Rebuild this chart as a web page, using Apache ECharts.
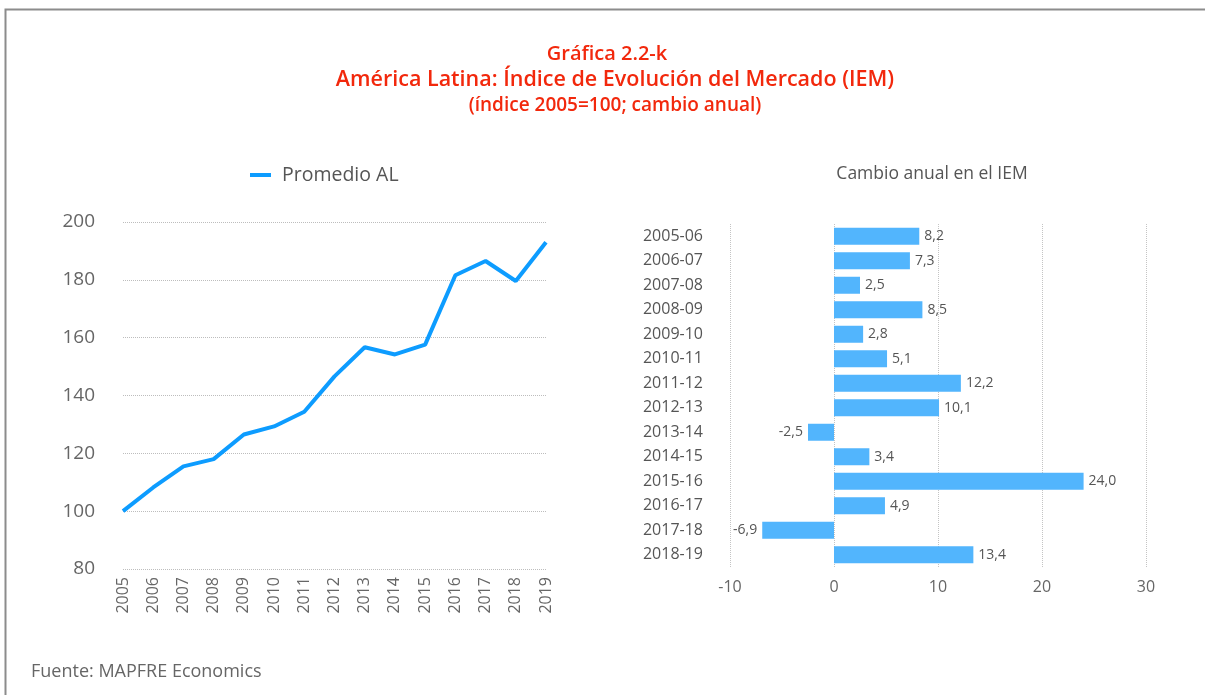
<!DOCTYPE html>
<html>
<head>
<meta charset="utf-8">
<title>IEM America Latina</title>
<script src="https://cdn.jsdelivr.net/npm/echarts@6/dist/echarts.min.js"></script>
<style>
    html, body { margin: 0; padding: 0; background: #fff; }
    #chart { width: 1205px; height: 695px; }
</style>
</head>
<body>
<div id="chart"></div>
<script>
// Serie del índice (2005 = 100)
const years = ['2005','2006','2007','2008','2009','2010','2011','2012','2013','2014','2015','2016','2017','2018','2019'];
const promedioAL = [100, 108.2, 115.5, 118.0, 126.5, 129.3, 134.4, 146.6, 156.7, 154.2, 157.6, 181.6, 186.5, 179.6, 193.0];
const yTicks = [80, 200, 20]; // min, max, interval

// Cambio anual en el IEM
const periods = ['2005-06','2006-07','2007-08','2008-09','2009-10','2010-11','2011-12','2012-13','2013-14','2014-15','2015-16','2016-17','2017-18','2018-19'];
const cambio = [8.2, 7.3, 2.5, 8.5, 2.8, 5.1, 12.2, 10.1, -2.5, 3.4, 24.0, 4.9, -6.9, 13.4];
const xTicks = [-10, 30, 10];

const FONT = '"Open Sans", Roboto, sans-serif';
const RED = '#f2280c';
const LINE_BLUE = '#0d9cff';
const BAR_BLUE = '#52b5fd';

let myChart = echarts.init(document.getElementById('chart'));

// barras: etiqueta a la derecha si es positivo, a la izquierda si es negativo
let barData = cambio.map(function (v) {
    return {
        value: v,
        label: { position: v < 0 ? 'left' : 'right' }
    };
});

let option = {
    backgroundColor: '#fff',
    textStyle: { fontFamily: FONT },
    animation: false,
    title: [
        {
            text: 'Gráfica 2.2-k',
            left: 602, top: 39, textAlign: 'center',
            textStyle: { color: RED, fontSize: 20, fontWeight: 600, fontFamily: FONT }
        },
        {
            text: 'América Latina: Índice de Evolución del Mercado (IEM)',
            left: 610, top: 64, textAlign: 'center',
            textStyle: { color: RED, fontSize: 21.5, fontWeight: 600, fontFamily: FONT }
        },
        {
            text: '(índice 2005=100; cambio anual)',
            left: 610, top: 91, textAlign: 'center',
            textStyle: { color: RED, fontSize: 19, fontWeight: 600, fontFamily: FONT }
        },
        {
            text: 'Cambio anual en el IEM',
            left: 927, top: 160, textAlign: 'center',
            textStyle: { color: '#555', fontSize: 17.5, fontWeight: 'normal', fontFamily: FONT }
        },
        {
            text: 'Fuente: MAPFRE Economics',
            left: 26, top: 658,
            textStyle: { color: '#666', fontSize: 18, fontWeight: 'normal', fontFamily: FONT }
        }
    ],
    legend: {
        data: ['Promedio AL'],
        left: 245, top: 160,
        icon: 'rect',
        itemWidth: 21,
        itemHeight: 4,
        textStyle: { color: '#555', fontSize: 19.5, fontFamily: FONT, padding: [0, 0, 0, 6] }
    },
    graphic: [
        // marco del recuadro
        {
            type: 'polyline',
            shape: { points: [[5.5, 695], [5.5, 9.5], [1205, 9.5]] },
            style: { stroke: '#8c8c8c', lineWidth: 2, fill: null }
        }
    ],
    grid: [
        { left: 123, top: 222, width: 423, height: 347 },
        { left: 730, top: 224, width: 416, height: 343 }
    ],
    xAxis: [
        {
            gridIndex: 0,
            type: 'category',
            data: years,
            boundaryGap: false,
            axisLine: { show: false },
            axisTick: { show: false },
            axisLabel: { rotate: 90, color: '#666', fontSize: 16, margin: 8, fontFamily: FONT }
        },
        {
            gridIndex: 1,
            type: 'value',
            min: xTicks[0], max: xTicks[1], interval: xTicks[2],
            axisLine: { show: false },
            axisTick: { show: false },
            axisLabel: { color: '#666', fontSize: 16, margin: 12, fontFamily: FONT },
            splitLine: { show: true, lineStyle: { color: '#c4c4c4', type: 'dotted', width: 1 } }
        }
    ],
    yAxis: [
        {
            gridIndex: 0,
            type: 'value',
            min: yTicks[0], max: yTicks[1], interval: yTicks[2],
            axisLine: { show: false },
            axisTick: { show: false },
            axisLabel: { color: '#666', fontSize: 19, margin: 28, fontFamily: FONT },
            splitLine: { show: true, lineStyle: { color: '#bdbdbd', type: 'dotted', width: 1 } }
        },
        {
            gridIndex: 1,
            type: 'category',
            data: periods,
            inverse: true,
            axisLine: { show: false },
            axisTick: { show: false },
            axisLabel: { color: '#555', fontSize: 16, margin: 27, fontFamily: FONT }
        }
    ],
    series: [
        {
            name: 'Promedio AL',
            type: 'line',
            xAxisIndex: 0,
            yAxisIndex: 0,
            data: promedioAL,
            symbol: 'none',
            color: LINE_BLUE,
            lineStyle: { color: LINE_BLUE, width: 4 }
        },
        {
            name: 'Cambio anual',
            type: 'bar',
            xAxisIndex: 1,
            yAxisIndex: 1,
            data: barData,
            barWidth: 17,
            itemStyle: { color: BAR_BLUE },
            label: {
                show: true,
                distance: 5,
                color: '#555',
                fontSize: 14,
                fontFamily: FONT,
                formatter: function (p) {
                    return p.value.toFixed(1).replace('.', ',');
                }
            }
        }
    ]
};
myChart.setOption(option);
</script>
</body>
</html>
